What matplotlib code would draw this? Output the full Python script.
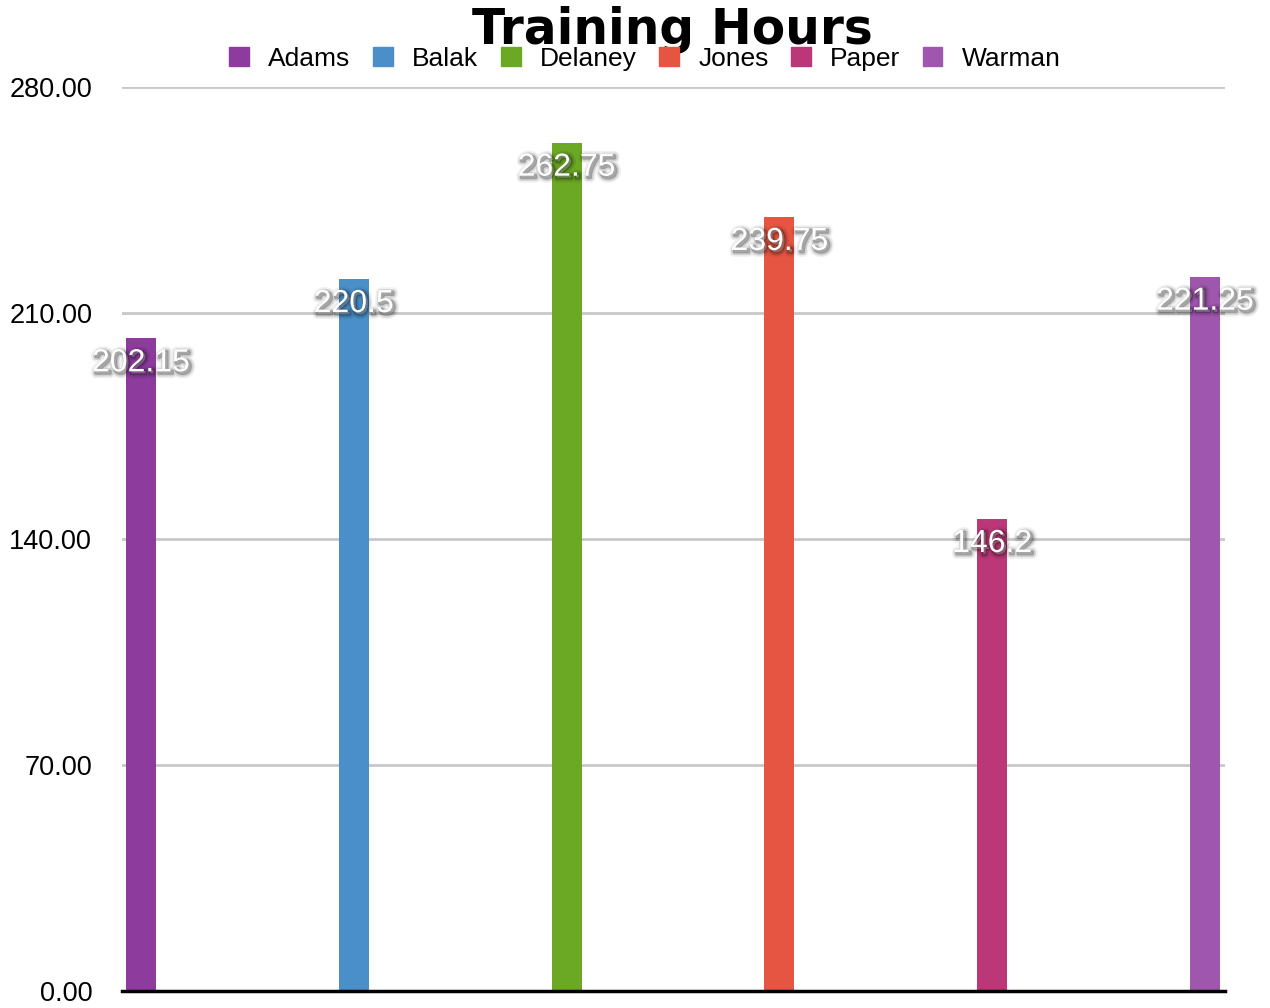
import matplotlib
matplotlib.use("Agg")
import matplotlib.pyplot as plt
import matplotlib.patheffects as pe
from matplotlib.patches import Rectangle
from matplotlib.ticker import FormatStrFormatter

names = ["Adams", "Balak", "Delaney", "Jones", "Paper", "Warman"]
hours = [202.15, 220.5, 262.75, 239.75, 146.2, 221.25]
labels = ["202.15", "220.5", "262.75", "239.75", "146.2", "221.25"]
colors = ["#8E3B9E", "#4A8FC7", "#6BA823", "#E55541", "#BB3778", "#9F57AE"]
yticks = [0, 70, 140, 210, 280]

fig = plt.figure(figsize=(12.7, 10.08), dpi=100)
ax = fig.add_axes([122/1270, 17/1008, (1225-122)/1270, (991-87)/1008])

x = list(range(len(names)))
ax.bar(x, hours, width=0.141, color=colors, zorder=3)

ax.set_xlim(-0.089, 5.094)
ax.set_ylim(0, 280)
ax.set_yticks(yticks)
ax.yaxis.set_major_formatter(FormatStrFormatter("%.2f"))
ax.set_xticks([])
ax.grid(axis="y", color="#C8C8C8", linewidth=2, zorder=0)
for s in ["left", "right", "top"]:
    ax.spines[s].set_visible(False)
ax.spines["bottom"].set_linewidth(2.5)
ax.spines["bottom"].set_color("black")
ax.spines["bottom"].set_zorder(5)
ax.tick_params(axis="y", length=0, pad=21.5, labelsize=19.5)
for t in ax.get_yticklabels():
    t.set_fontfamily("Liberation Sans")

shadow = [pe.Stroke(linewidth=7, foreground="black", alpha=0.06, offset=(1.5, -1.5)),
          pe.Stroke(linewidth=4.5, foreground="black", alpha=0.12, offset=(1.5, -1.5)),
          pe.Stroke(linewidth=2, foreground="black", alpha=0.25, offset=(1.5, -1.5)),
          pe.Normal()]
for xi, v, lab in zip(x, hours, labels):
    ax.annotate(lab, (xi, v), xytext=(0, -18), textcoords="offset points",
                ha="center", va="center", color="white", fontsize=23,
                fontfamily="Liberation Sans", path_effects=shadow, zorder=6,
                annotation_clip=False)

fig.text(672/1270, 1 - 30/1008, "Training Hours", ha="center", va="center",
         fontsize=35, fontweight="bold", fontfamily="DejaVu Sans")

handles = [Rectangle((0, 0), 1, 1, color=c) for c in colors]
fig.legend(handles, names, loc="center", bbox_to_anchor=(645/1270, 1 - 59/1008),
           ncol=6, frameon=False, prop={"family": "Liberation Sans", "size": 19},
           handlelength=0.75, handleheight=0.75, handletextpad=0.73,
           columnspacing=0.85, borderpad=0, borderaxespad=0)

fig.savefig("out.png", dpi=100)
